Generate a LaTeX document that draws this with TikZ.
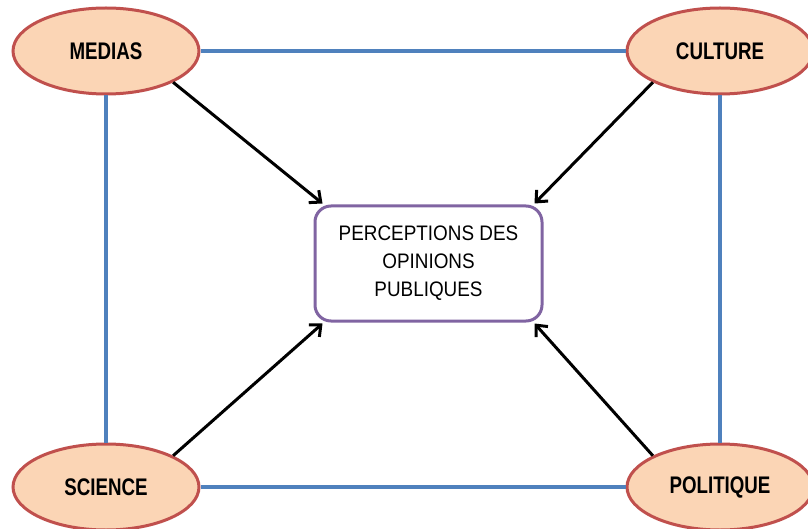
\documentclass[tikz,border=0pt]{standalone}
\usepackage{fontspec}
\setmainfont{Liberation Sans}[FakeStretch=0.78]
\newfontfamily\boxfont{Liberation Sans}[FakeStretch=0.9]
\usetikzlibrary{shapes.geometric,arrows.meta}
\definecolor{peach}{HTML}{FBD5B5}
\definecolor{redline}{HTML}{C0504D}
\definecolor{blueline}{HTML}{4F81BD}
\definecolor{purpleline}{HTML}{8064A2}
\tikzset{
  bubble/.style={ellipse, draw=redline, fill=peach, line width=3pt, minimum width=186pt, minimum height=86pt, inner sep=0pt, font=\fontsize{24}{26}\selectfont\bfseries},
  centerbox/.style={rectangle, rounded corners=16pt, draw=purpleline, line width=3pt, minimum width=227pt, minimum height=115pt, align=center, font=\boxfont\fontsize{21}{28}\selectfont},
  link/.style={draw=blueline, line width=4pt},
  influence/.style={draw=black, line width=3pt, -{Straight Barb[length=9pt,width=16pt,line width=3pt]}}
}
\begin{document}
\begin{tikzpicture}[x=1pt,y=-1pt]
\useasboundingbox (0,0) rectangle (808,529);
\node[centerbox] (box) at (428.5,263.5) {PERCEPTIONS DES\\OPINIONS\\PUBLIQUES};
\node[bubble] (medias) at (106,51) {MEDIAS};
\node[bubble] (culture) at (720,51) {CULTURE};
\node[bubble] (science) at (106,487) {SCIENCE};
\node[bubble] (politique) at (720,487) {POLITIQUE};
\draw[link] (medias.east) -- (culture.west);
\draw[link] (science.east) -- (politique.west);
\draw[link] (medias.south) -- (science.north);
\draw[link] (culture.south) -- (politique.north);
\draw[influence] (medias.-25) -- ([xshift=9pt,yshift=1pt]box.north west);
\draw[influence] (culture.-155) -- ([xshift=-9pt,yshift=1pt]box.north east);
\draw[influence] (science.25) -- ([xshift=9pt,yshift=-1pt]box.south west);
\draw[influence] (politique.155) -- ([xshift=-9pt,yshift=-1pt]box.south east);
\end{tikzpicture}
\end{document}
